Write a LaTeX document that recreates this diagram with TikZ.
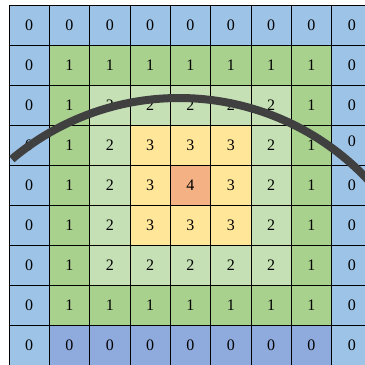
\documentclass[tikz,border=0pt]{standalone}
\usepackage{fontspec}
\setmainfont{Liberation Serif}
\definecolor{lblue}{HTML}{9DC3E6}
\definecolor{dblue}{HTML}{8FAADC}
\definecolor{gone}{HTML}{A9D18E}
\definecolor{gtwo}{HTML}{C5E0B4}
\definecolor{ythree}{HTML}{FFE699}
\definecolor{ofour}{HTML}{F4B183}
\definecolor{arcgray}{HTML}{404040}
\begin{document}
\begin{tikzpicture}[x=1pt,y=1pt,
  cell/.style={draw=black,line width=0.9pt,minimum width=40.33pt,minimum height=40pt,
    inner sep=0pt,outer sep=0pt,font=\fontsize{16}{18}\selectfont},
  bigarc/.style={draw=arcgray,line width=8pt}]
\useasboundingbox (0,0) rectangle (365,365);
\fill[white] (0,0) rectangle (365,365);
\begin{scope}
\clip (0,0) rectangle (365,365);
\foreach \i in {0,...,8}{
  \foreach \j in {0,...,8}{
    \pgfmathtruncatemacro{\v}{min(min(\i,\j),min(8-\i,8-\j))}
    \ifcase\v
      \def\col{lblue}\or\def\col{gone}\or\def\col{gtwo}\or\def\col{ythree}\or\def\col{ofour}\fi
    \ifnum\i=8 \ifnum\j>0 \ifnum\j<8 \def\col{dblue}\fi\fi\fi
    \def\txt{\v}
    \ifnum\i=3 \ifnum\j=8 \def\txt{\raisebox{9pt}{0}}\fi\fi
    \node[cell,fill=\col] (c-\i-\j) at ({9+40.33*(\j+0.5)},{359.7-40*(\i+0.5)}) {\txt};
  }
}
\coordinate (arcc) at (179,8);
\draw[bigarc] (arcc) ++(130.2:259) arc[start angle=130.2,end angle=38,radius=259];
\end{scope}
\end{tikzpicture}
\end{document}
